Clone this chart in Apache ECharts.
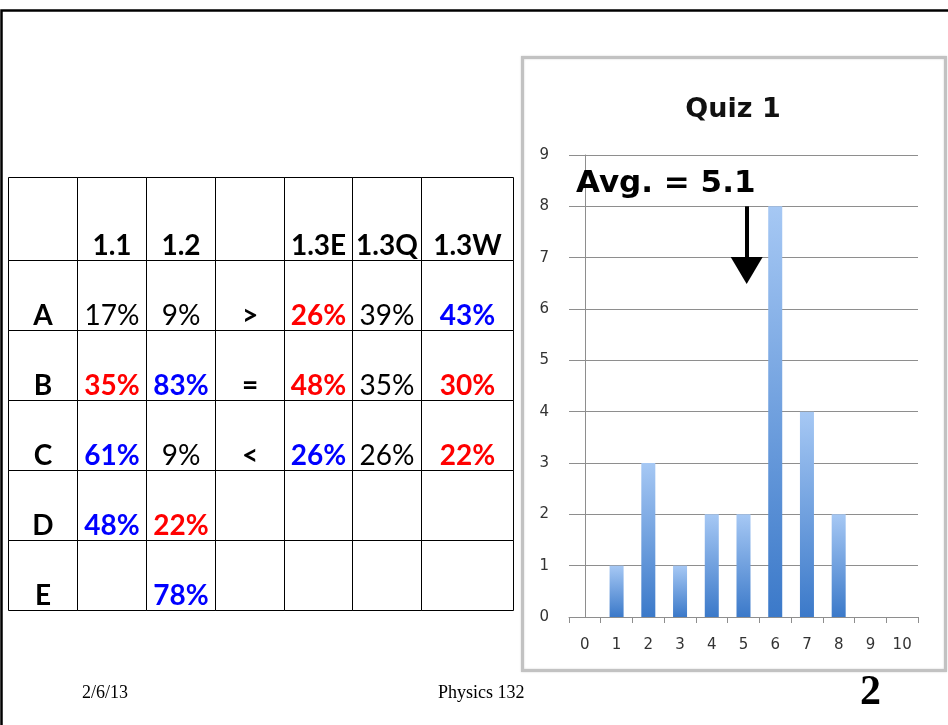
<!DOCTYPE html>
<html>
<head>
<meta charset="utf-8">
<script src="https://cdn.jsdelivr.net/npm/echarts@6/dist/echarts.min.js"></script>
<style>
html,body{margin:0;padding:0;background:#fff;}
#main{width:948px;height:725px;}
</style>
</head>
<body>
<div id="main"></div>
<script>
// ---- Histogram data (Quiz 1) ----
const scores = ['0','1','2','3','4','5','6','7','8','9','10'];
const counts = [0, 1, 3, 1, 2, 2, 8, 4, 2, 0, 0];
const avgScore = 5.1;
const chartTitle = 'Quiz 1';

// ---- Table data ----
const tableHeaders = ['', '1.1', '1.2', '', '1.3E', '1.3Q', '1.3W'];
const answerRows = ['A', 'B', 'C', 'D', 'E'];
const pct11  = [17, 35, 61, 48, null];
const pct12  = [9, 83, 9, 22, 78];
const compare = ['>', '=', '<', null, null];
const pct13E = [26, 48, 26, null, null];
const pct13Q = [39, 35, 26, null, null];
const pct13W = [43, 30, 22, null, null];
// highlight: k = plain, r = red, b = blue
const hl11  = ['k', 'r', 'b', 'b', null];
const hl12  = ['k', 'b', 'k', 'r', 'b'];
const hl13E = ['r', 'r', 'b', null, null];
const hl13Q = ['k', 'k', 'k', null, null];
const hl13W = ['b', 'r', 'r', null, null];

// ---- footer ----
const footerDate = '2/6/13';
const footerCourse = 'Physics 132';
const slideNumber = '2';

// ---- layout (style only) ----
const colWidths = [69, 69, 69, 69, 68, 69, 92];
const rowHeights = [83, 70, 70, 70, 70, 70];
const colEdges = colWidths.reduce((a, w) => { a.push(a[a.length - 1] + w); return a; }, [0]);
const rowEdges = rowHeights.reduce((a, h) => { a.push(a[a.length - 1] + h); return a; }, [0]);
const tableW = colEdges[colEdges.length - 1];
const tableH = rowEdges[rowEdges.length - 1];
const hlColor = { k: '#000000', r: '#ff0000', b: '#0000ff' };

// build cells
const cells = [];
tableHeaders.forEach((h, c) => cells.push({ col: c, row: 0, text: h, color: '#000', bold: true }));
const pctCols = [
  { col: 1, vals: pct11, hl: hl11 },
  { col: 2, vals: pct12, hl: hl12 },
  { col: 4, vals: pct13E, hl: hl13E },
  { col: 5, vals: pct13Q, hl: hl13Q },
  { col: 6, vals: pct13W, hl: hl13W }
];
answerRows.forEach((lab, i) => {
  const r = i + 1;
  cells.push({ col: 0, row: r, text: lab, color: '#000', bold: true });
  cells.push({ col: 3, row: r, text: compare[i] || '', color: '#000', bold: true });
  pctCols.forEach(pc => {
    const v = pc.vals[i];
    const k = pc.hl[i];
    cells.push({
      col: pc.col, row: r,
      text: v == null ? '' : v + '%',
      color: k ? hlColor[k] : '#000',
      bold: k === 'r' || k === 'b'
    });
  });
});

const chart = echarts.init(document.getElementById('main'), null, { renderer: 'canvas' });

const gridColor = '#8e8e8e';

const option = {
  animation: false,
  backgroundColor: '#ffffff',
  title: [
    {
      text: chartTitle, left: 733, top: 96, textAlign: 'center', padding: 0,
      textStyle: { fontFamily: 'DejaVu Sans', fontWeight: 'bold', fontSize: 27, color: '#111' }
    },
    {
      text: 'Avg. = ' + avgScore, left: 576, top: 168, padding: 0,
      textStyle: { fontFamily: 'DejaVu Sans', fontWeight: 'bold', fontSize: 31, color: '#000' }
    },
    {
      text: footerDate, left: 82, top: 684, padding: 0,
      textStyle: { fontFamily: 'Liberation Serif', fontWeight: 'normal', fontSize: 18, color: '#000' }
    },
    {
      text: footerCourse, left: 438, top: 684, padding: 0,
      textStyle: { fontFamily: 'Liberation Serif', fontWeight: 'normal', fontSize: 18, color: '#000' }
    },
    {
      text: slideNumber, left: 860, top: 672, padding: 0,
      textStyle: { fontFamily: 'Liberation Serif', fontWeight: 'bold', fontSize: 42, color: '#000' }
    }
  ],
  graphic: [
    {
      type: 'rect', z: -5, silent: true,
      shape: { x: 1.5, y: 10.5, width: 1000, height: 800 },
      style: { fill: 'none', stroke: '#000', lineWidth: 2.5 }
    },
    {
      type: 'rect', z: -5, silent: true,
      shape: { x: 522.5, y: 57.5, width: 423, height: 613 },
      style: { fill: 'none', stroke: '#c2c2c2', lineWidth: 3, shadowBlur: 2, shadowColor: 'rgba(0,0,0,0.2)' }
    }
  ],
  grid: [
    { left: 569, top: 155, width: 349, height: 462, containLabel: false },
    { left: 8, top: 177, width: tableW, height: tableH, containLabel: false }
  ],
  xAxis: [
    {
      type: 'category', gridIndex: 0, data: scores,
      boundaryGap: true,
      axisLine: { show: true, lineStyle: { color: gridColor, width: 1 } },
      axisTick: { show: true, alignWithLabel: false, length: 6, lineStyle: { color: gridColor } },
      axisLabel: { margin: 21, fontFamily: 'DejaVu Sans', fontSize: 15, color: '#333' },
      splitLine: { show: false }
    },
    {
      type: 'value', gridIndex: 0, min: -0.5, max: scores.length - 0.5, show: false
    },
    {
      type: 'value', gridIndex: 1, min: 0, max: tableW, show: false
    }
  ],
  yAxis: [
    {
      type: 'value', gridIndex: 0, min: 0, max: 9, interval: 1,
      axisLine: { show: true, lineStyle: { color: gridColor, width: 1 } },
      axisTick: { show: true, length: 8, lineStyle: { color: gridColor } },
      axisLabel: { margin: 20, fontFamily: 'DejaVu Sans', fontSize: 15, color: '#333' },
      splitLine: { show: true, lineStyle: { color: gridColor, width: 1 } }
    },
    {
      type: 'value', gridIndex: 1, min: 0, max: tableH, inverse: true, show: false
    }
  ],
  series: [
    {
      type: 'bar', xAxisIndex: 0, yAxisIndex: 0,
      data: counts, barWidth: 14,
      itemStyle: {
        color: new echarts.graphic.LinearGradient(0, 0, 0, 1, [
          { offset: 0, color: '#a6c8f4' },
          { offset: 1, color: '#3b79c9' }
        ])
      }
    },
    {
      type: 'scatter', xAxisIndex: 1, yAxisIndex: 0, data: [],
      markLine: {
        silent: true, animation: false,
        symbol: ['none', 'triangle'], symbolSize: [32, 27],
        lineStyle: { color: '#000', width: 4, type: 'solid' },
        label: { show: false },
        data: [[{ coord: [avgScore, 8] }, { coord: [avgScore, 6.75] }]]
      }
    },
    {
      type: 'custom', xAxisIndex: 2, yAxisIndex: 1, clip: false,
      data: cells.map(c => [c.col, c.row]),
      renderItem: function (params, api) {
        const cell = cells[params.dataIndex];
        const p0 = api.coord([colEdges[cell.col], rowEdges[cell.row]]);
        const p1 = api.coord([colEdges[cell.col + 1], rowEdges[cell.row + 1]]);
        const x0 = Math.round(p0[0]) + 0.5, y0 = Math.round(p0[1]) + 0.5;
        const x1 = Math.round(p1[0]) + 0.5, y1 = Math.round(p1[1]) + 0.5;
        return {
          type: 'group',
          children: [
            {
              type: 'rect',
              shape: { x: x0, y: y0, width: x1 - x0, height: y1 - y0 },
              style: { fill: 'none', stroke: '#000', lineWidth: 1 }
            },
            {
              type: 'text',
              style: {
                text: cell.text,
                x: (x0 + x1) / 2, y: y1 - 1,
                align: 'center', verticalAlign: 'bottom',
                font: (cell.bold ? 'bold ' : '') + '28px Lato',
                fill: cell.color
              }
            }
          ]
        };
      }
    }
  ]
};

chart.setOption(option);
</script>
</body>
</html>
